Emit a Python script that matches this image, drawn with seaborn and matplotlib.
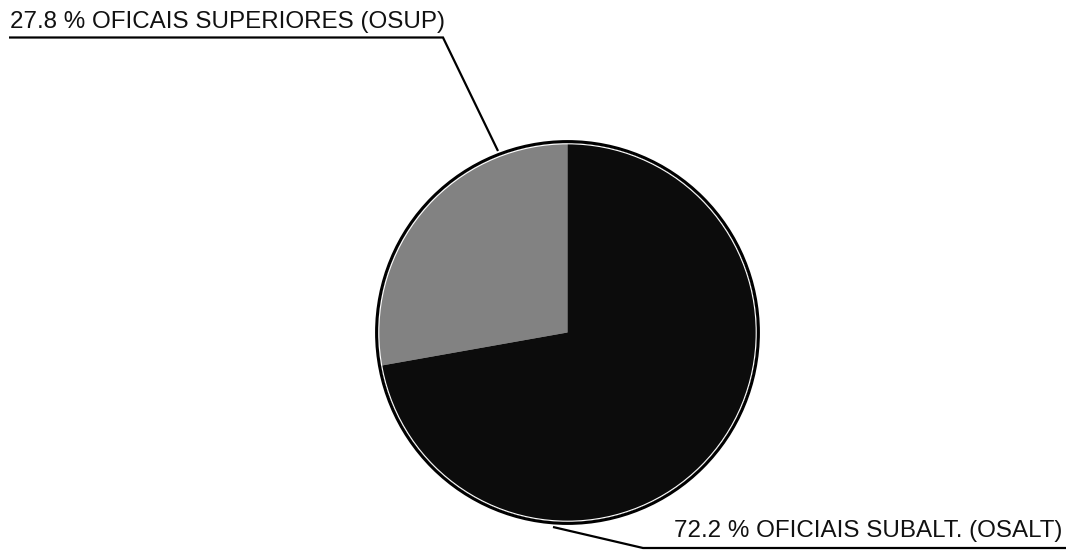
import matplotlib
matplotlib.use("Agg")
import matplotlib.pyplot as plt
import seaborn as sns

# Distribution of officers by rank group
categories = ["OFICAIS SUPERIORES (OSUP)", "OFICIAIS SUBALT. (OSALT)"]
shares = [27.8, 72.2]
labels = [f"{shares[0]:.1f} % {categories[0]}", f"{shares[1]:.1f} % {categories[1]}"]

sns.set_theme(style="white")
plt.rcParams["font.family"] = ["Liberation Sans", "DejaVu Sans"]

W, H = 1074, 550
fig = plt.figure(figsize=(W / 100, H / 100), dpi=100)
ax = fig.add_axes([0, 0, 1, 1])

cx, cy, r = 567.5, H - 332.5, 189
colors = ["#828282", "#0c0c0c"]
ax.pie(shares, colors=colors, startangle=90, counterclock=True,
       center=(cx, cy), radius=r, wedgeprops=dict(linewidth=0))

# rim: thin white ring inside a heavy black outline
ax.add_patch(plt.Circle((cx, cy), r - 0.3, fill=False, ec="white", lw=0.8))
ax.add_patch(plt.Circle((cx, cy), r + 1.9, fill=False, ec="black", lw=2.2))

ax.set_xlim(0, W)
ax.set_ylim(0, H)
ax.set_aspect("auto")
ax.axis("off")

fs = 17.4
# upper label with leader
ax.text(10, H - 28, labels[0], fontsize=fs, color="#111111", ha="left", va="baseline")
ax.plot([9, 443, 498], [H - 37.5, H - 37.5, H - 151], color="black", lw=1.6,
        solid_joinstyle="miter", solid_capstyle="butt")

# lower label with leader
ax.text(674, H - 537, labels[1], fontsize=fs, color="#111111", ha="left", va="baseline")
ax.plot([553, 643, 1066], [H - 527, H - 548, H - 548], color="black", lw=1.6,
        solid_joinstyle="miter", solid_capstyle="butt")

fig.savefig("out.png", dpi=100, facecolor="white")
